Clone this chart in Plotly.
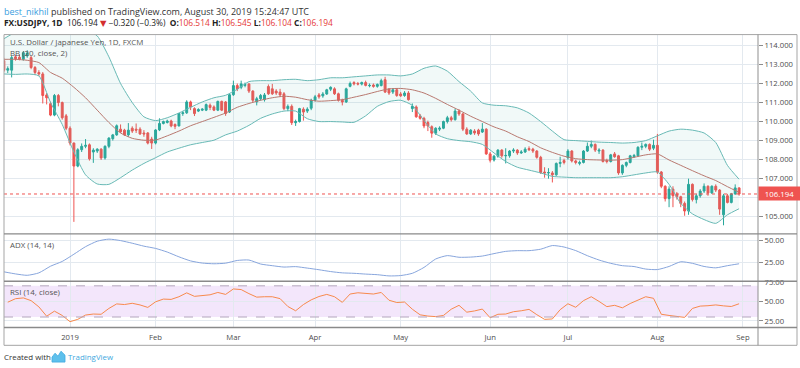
import plotly.graph_objects as go
import pandas as pd

W, H = 800, 368
FONT = "Open Sans, Noto Sans, DejaVu Sans, sans-serif"

# ---------------- data ----------------
dates = [d.strftime("%Y-%m-%d") for d in pd.bdate_range("2018-12-06", "2019-08-30")
         if d.strftime("%m-%d") not in ("12-25", "01-01")]

opens = [113.2, 112.7, 112.7, 113.4, 113.38, 113.27, 113.45, 113.36, 112.84, 112.58,
         112.5, 111.4, 110.94, 110.34, 111.37, 111.0, 110.3, 109.65, 108.87, 107.66,
         108.52, 108.7, 108.78, 108.4, 108.45, 108.55, 108.09, 108.7, 109.1, 109.3,
         109.6, 109.55, 109.3, 109.65, 109.6, 109.6, 109.4, 109.4, 109.08, 108.87,
         109.56, 109.9, 109.95, 110.03, 109.85, 109.77, 110.42, 110.46, 111.03, 110.68,
         110.55, 110.6, 110.6, 110.86, 110.77, 110.6, 111.06, 111.03, 110.5, 111.41,
         111.89, 111.8, 111.9, 111.98, 111.6, 111.03, 111.2, 111.15, 111.84, 111.72,
         111.6, 111.55, 111.46, 110.68, 110.8, 109.94, 110.0, 110.65, 110.55, 110.7,
         111.12, 111.4, 111.35, 111.45, 111.7, 111.72, 111.46, 111.12, 111.03, 111.85,
         112.05, 112.0, 111.97, 112.05, 111.88, 111.92, 111.85, 111.89, 112.2, 111.7,
         111.55, 111.67, 111.45, 111.37, 111.5, 110.68, 110.77, 110.3, 110.17, 109.95,
         109.73, 109.39, 109.6, 109.65, 110.0, 110.2, 110.1, 110.55, 110.4, 109.6,
         109.35, 109.5, 109.55, 109.45, 109.6, 108.3, 107.98, 108.18, 108.5, 108.2,
         108.2, 108.45, 108.5, 108.35, 108.4, 108.58, 108.55, 108.45, 108.12, 107.35,
         107.3, 107.3, 107.2, 107.8, 107.95, 108.1, 108.45, 107.93, 107.8, 107.85,
         108.45, 108.7, 108.8, 108.45, 108.5, 107.95, 107.9, 108.3, 108.2, 107.3,
         107.7, 107.85, 108.15, 108.2, 108.65, 108.7, 108.8, 108.6, 108.75, 107.35,
         106.6, 105.95, 106.45, 106.2, 106.05, 105.7, 105.3, 106.7, 105.9, 106.1,
         106.35, 106.6, 106.25, 106.6, 106.4, 105.1, 106.1, 105.75, 106.2, 106.514]

highs = [113.35, 112.9, 113.45, 113.5, 113.5, 113.7, 113.75, 113.45, 112.92, 112.7,
         112.6, 111.5, 111.05, 111.45, 111.45, 111.05, 110.4, 109.75, 108.9, 108.6,
         108.85, 109.08, 108.85, 108.6, 108.6, 108.6, 108.75, 109.18, 109.35, 109.85,
         109.85, 109.62, 109.92, 109.75, 109.9, 109.7, 109.55, 109.45, 109.2, 109.6,
         110.17, 110.05, 110.1, 110.1, 109.9, 110.45, 110.55, 111.12, 111.1, 110.75,
         110.7, 110.7, 110.95, 110.95, 110.85, 111.1, 111.1, 111.08, 111.45, 112.15,
         112.0, 112.15, 112.05, 112.0, 111.65, 111.3, 111.45, 111.5, 111.95, 111.98,
         111.7, 111.72, 111.55, 110.9, 110.9, 110.1, 110.72, 110.75, 110.75, 111.2,
         111.4, 111.5, 111.55, 111.72, 111.85, 111.8, 111.52, 111.2, 111.78, 112.1,
         112.12, 112.08, 112.1, 112.15, 112.0, 112.0, 112.0, 112.25, 112.35, 111.75,
         111.75, 111.75, 111.55, 111.6, 111.6, 110.95, 110.85, 110.4, 110.25, 110.05,
         109.8, 109.7, 109.75, 110.05, 110.3, 110.3, 110.68, 110.65, 110.45, 109.7,
         109.6, 109.6, 109.62, 109.92, 109.65, 108.4, 108.25, 108.55, 108.55, 108.6,
         108.5, 108.6, 108.55, 108.5, 108.65, 108.7, 108.62, 108.5, 108.2, 107.6,
         107.55, 107.4, 107.85, 108.15, 108.05, 108.55, 108.5, 108.0, 107.95, 108.5,
         108.9, 109.0, 108.85, 108.6, 108.55, 108.05, 108.3, 108.4, 108.25, 107.75,
         107.9, 108.25, 108.3, 108.7, 108.9, 108.85, 108.85, 109.05, 109.35, 107.4,
         106.65, 106.6, 106.6, 106.3, 106.1, 105.8, 107.0, 106.75, 106.2, 106.45,
         106.75, 106.65, 106.65, 106.7, 106.45, 106.2, 106.2, 106.25, 106.7, 106.545]

lows = [112.6, 112.55, 112.32, 113.2, 113.22, 113.2, 113.35, 112.75, 112.45, 112.4,
        110.95, 110.9, 110.28, 110.28, 110.8, 110.1, 109.55, 108.75, 104.73, 107.6,
        108.4, 108.6, 107.95, 107.83, 108.35, 107.98, 108.0, 108.6, 109.0, 109.25,
        109.4, 109.25, 109.2, 109.4, 109.4, 109.3, 109.2, 108.8, 108.56, 108.8,
        109.5, 109.85, 109.9, 109.7, 109.6, 109.75, 110.3, 110.4, 110.6, 110.29,
        110.5, 110.55, 110.55, 110.6, 110.55, 110.55, 110.55, 110.3, 110.45, 111.35,
        111.6, 111.7, 111.8, 111.5, 111.0, 110.85, 111.1, 111.05, 111.4, 111.4,
        111.4, 111.3, 110.6, 110.55, 109.82, 109.77, 109.95, 110.05, 110.45, 110.6,
        111.05, 111.2, 111.25, 111.4, 111.6, 111.4, 111.05, 110.85, 110.98, 111.8,
        111.9, 111.9, 111.9, 111.85, 111.8, 111.78, 111.78, 111.85, 111.5, 111.4,
        111.45, 111.3, 111.3, 111.3, 111.1, 110.5, 110.2, 110.1, 109.65, 109.5,
        109.15, 109.3, 109.5, 109.6, 109.9, 110.0, 110.05, 110.3, 109.5, 109.3,
        109.3, 109.3, 109.25, 109.4, 108.25, 107.85, 107.9, 108.1, 108.1, 107.8,
        108.1, 108.35, 108.25, 108.3, 108.35, 108.45, 108.35, 108.05, 107.25, 107.05,
        107.0, 106.8, 107.15, 107.6, 107.75, 108.0, 107.85, 107.75, 107.7, 107.8,
        108.4, 108.6, 108.4, 108.3, 107.85, 107.8, 107.85, 108.1, 107.2, 107.2,
        107.6, 107.8, 108.1, 108.15, 108.5, 108.6, 108.45, 108.5, 107.25, 106.5,
        105.8, 105.5, 105.5, 105.9, 105.5, 105.05, 105.1, 105.8, 105.7, 106.0,
        106.25, 106.1, 106.2, 106.3, 105.1, 104.55, 105.7, 105.7, 106.15, 106.104]

closes = [112.7, 112.78, 113.36, 113.3, 113.28, 113.62, 113.6, 112.84, 112.58, 112.5,
          111.37, 111.25, 110.34, 111.37, 111.0, 110.2, 109.65, 108.87, 107.66, 108.52,
          108.7, 108.75, 108.04, 108.5, 108.55, 108.09, 108.7, 109.13, 109.3, 109.78,
          109.46, 109.3, 109.55, 109.5, 109.55, 109.35, 109.35, 108.87, 108.87, 109.56,
          109.9, 110.0, 110.03, 109.77, 109.75, 110.42, 110.46, 111.03, 110.77, 110.42,
          110.63, 110.65, 110.89, 110.74, 110.6, 111.06, 110.6, 110.42, 111.41, 111.89,
          111.72, 111.98, 111.95, 111.6, 111.12, 111.2, 111.37, 111.4, 111.46, 111.46,
          111.5, 111.4, 110.68, 110.8, 109.94, 110.0, 110.68, 110.5, 110.65, 111.12,
          111.3, 111.3, 111.45, 111.67, 111.8, 111.46, 111.12, 111.03, 111.72, 112.0,
          111.98, 111.97, 112.05, 111.9, 111.9, 111.85, 111.95, 112.15, 111.55, 111.5,
          111.67, 111.37, 111.35, 111.5, 111.15, 110.8, 110.25, 110.17, 109.77, 109.77,
          109.39, 109.65, 109.65, 110.0, 110.2, 110.1, 110.55, 110.4, 109.6, 109.35,
          109.55, 109.4, 109.35, 109.6, 108.3, 107.97, 108.18, 108.5, 108.2, 108.22,
          108.45, 108.5, 108.35, 108.4, 108.55, 108.52, 108.45, 108.12, 107.32, 107.3,
          107.32, 107.2, 107.8, 107.85, 107.85, 108.45, 107.93, 107.85, 107.85, 108.45,
          108.7, 108.8, 108.5, 108.5, 107.9, 107.9, 108.25, 108.15, 107.3, 107.7,
          107.85, 108.2, 108.22, 108.65, 108.7, 108.8, 108.55, 108.75, 107.35, 106.6,
          105.95, 106.45, 106.1, 106.05, 105.7, 105.3, 106.7, 105.9, 106.1, 106.35,
          106.6, 106.25, 106.6, 106.4, 105.4, 106.1, 105.75, 106.2, 106.514, 106.194]

# Bollinger Bands (20, close, 2), read every third bar
bb_upper = [114.35, 114.7, 114.9, 115.0, 115.05, 115.0, 114.95, 114.85, 114.5, 113.4,
            112.0, 111.0, 110.25, 110.05, 110.2, 110.45, 110.75, 111.03, 111.25, 111.38,
            111.7, 112.1, 112.15, 112.15, 112.2, 112.22, 112.15, 112.2, 112.3, 112.3,
            112.35, 112.4, 112.45, 112.45, 112.4, 112.5, 112.8, 112.92, 112.65, 112.1,
            111.6, 110.98, 110.86, 110.83, 110.72, 110.45, 110.0, 109.5, 109.05, 109.0,
            108.96, 108.92, 108.9, 108.87, 108.9, 109.0, 109.25, 109.5, 109.6, 109.55,
            109.4, 108.9, 107.7, 106.97]
bb_middle = [113.27, 113.27, 113.22, 113.1, 112.58, 112.28, 111.8, 111.25, 110.6, 109.95,
             109.4, 109.12, 109.02, 109.03, 109.25, 109.5, 109.78, 110.0, 110.22, 110.45,
             110.75, 110.95, 111.12, 111.25, 111.33, 111.28, 111.15, 111.07, 111.1, 111.15,
             111.28, 111.42, 111.58, 111.72, 111.74, 111.67, 111.5, 111.22, 110.9, 110.6,
             110.28, 110.0, 109.72, 109.5, 109.2, 108.95, 108.62, 108.38, 108.18, 108.05,
             108.0, 107.98, 107.97, 108.0, 108.12, 108.25, 108.3, 107.98, 107.7, 107.42,
             107.15, 106.9, 106.58, 106.28]
bb_lower = [112.5, 112.48, 112.5, 112.4, 111.0, 109.85, 108.4, 107.2, 106.72, 106.7,
            107.05, 107.45, 107.8, 108.1, 108.4, 108.6, 108.78, 108.9, 109.02, 109.3,
            109.5, 109.8, 110.17, 110.4, 110.55, 110.55, 110.15, 110.0, 110.0, 109.98,
            109.96, 110.3, 110.8, 111.05, 111.12, 110.85, 110.05, 109.35, 109.1, 109.0,
            108.94, 108.8, 108.35, 107.9, 107.6, 107.45, 107.3, 107.12, 107.08, 107.05,
            107.05, 107.05, 107.05, 107.1, 107.2, 107.3, 107.35, 106.7, 105.7, 105.15,
            104.85, 104.65, 105.1, 105.42]

# ADX (14, 14), read every third bar
adx = [14.2, 11.8, 10.2, 13.0, 20.7, 26.2, 34.5, 43.2, 49.5, 51.9,
       50.2, 47.2, 43.8, 41.2, 37.0, 31.5, 26.8, 24.3, 23.5, 24.2,
       27.3, 27.8, 23.2, 21.3, 19.7, 20.2, 18.5, 16.6, 14.5, 13.0,
       12.5, 11.6, 10.9, 9.5, 9.9, 12.5, 19.3, 29.0, 32.9, 31.0,
       31.2, 32.4, 35.2, 37.8, 38.6, 38.6, 40.3, 44.5, 42.8, 38.7,
       32.8, 27.8, 24.0, 21.3, 20.3, 17.4, 16.8, 20.4, 25.8, 24.0,
       20.4, 18.8, 21.3, 23.5]

# RSI (14, close), read every second bar
rsi = [49, 53.5, 54.5, 51, 43, 31, 37.5, 32, 24, 27,
       32.5, 33.8, 33.5, 41, 46.8, 46, 47.6, 45.5, 42.3, 49.5,
       53, 52.6, 56, 61, 56.5, 57.8, 58.5, 61.5, 59, 66,
       65.2, 60, 55.5, 56, 56, 53.6, 43.5, 38, 46, 52,
       56.3, 59, 56, 48.8, 59.5, 61.1, 60.2, 59.5, 61.5, 51.5,
       48.6, 49.2, 40, 32.8, 31.2, 30.5, 32, 40, 45, 36.2,
       37.8, 40.2, 29, 33.5, 33.8, 36.8, 38, 39.8, 33, 27,
       27.5, 39.4, 47, 42.5, 51, 56, 50, 43.3, 45, 41.8,
       47.3, 51.5, 56, 54, 33.5, 32, 31, 29.5, 41, 44,
       44.5, 45.5, 44.3, 43.5, 47]

month_keys = ["2019-01", "2019-02", "2019-03", "2019-04", "2019-05",
              "2019-06", "2019-07", "2019-08", "2019-09"]
month_labels = ["2019", "Feb", "Mar", "Apr", "May", "Jun", "Jul", "Aug", "Sep"]
price_ticks = [105, 106, 107, 108, 109, 110, 111, 112, 113, 114]
adx_ticks = [25, 50]
rsi_ticks = [25, 50, 75]
rsi_bounds = [30, 70]


# ---------------- helpers ----------------
def px(x):
    return x / W


def py(y):
    return (H - y) / H


pos = list(range(len(dates)))
bb_pos = pos[::3]
adx_pos = pos[::3]
rsi_pos = pos[1::2]
tick_pos = [next((k for k, d in enumerate(dates) if d.startswith(m)), len(dates))
            for m in month_keys]

GRID = "#e3e9ef"
AX_TXT = "#4d4d4d"
UP = "#26a69a"
DN = "#ef5350"
BAND = "#68b9b5"

fig = go.Figure()
fig.add_trace(go.Scatter(x=bb_pos, y=bb_lower, mode="lines",
                         line=dict(color=BAND, width=1, shape="spline", smoothing=0.6),
                         hoverinfo="skip", xaxis="x", yaxis="y"))
fig.add_trace(go.Scatter(x=bb_pos, y=bb_upper, mode="lines",
                         line=dict(color=BAND, width=1, shape="spline", smoothing=0.6),
                         fill="tonexty", fillcolor="rgba(104,185,181,0.09)",
                         hoverinfo="skip", xaxis="x", yaxis="y"))
fig.add_trace(go.Scatter(x=bb_pos, y=bb_middle, mode="lines",
                         line=dict(color="#b8786f", width=1, shape="spline", smoothing=0.6),
                         hoverinfo="skip", xaxis="x", yaxis="y"))
fig.add_trace(go.Candlestick(x=pos, open=opens, high=highs, low=lows, close=closes,
                             increasing=dict(line=dict(color=UP, width=1), fillcolor=UP),
                             decreasing=dict(line=dict(color=DN, width=1), fillcolor=DN),
                             whiskerwidth=0, hoverinfo="skip", xaxis="x", yaxis="y"))
fig.add_trace(go.Scatter(x=adx_pos, y=adx, mode="lines",
                         line=dict(color="#87a5dc", width=1, shape="spline", smoothing=0.6),
                         hoverinfo="skip", xaxis="x2", yaxis="y2"))
fig.add_trace(go.Scatter(x=rsi_pos, y=rsi, mode="lines",
                         line=dict(color="#f7894c", width=1),
                         hoverinfo="skip", xaxis="x3", yaxis="y3"))

xr = [0.033, 193.86]
tickfont = dict(family=FONT, size=7.7, color=AX_TXT)
xcommon = dict(domain=[px(4), px(758)], range=xr, tickvals=tick_pos, ticktext=month_labels,
               showgrid=True, gridcolor=GRID, gridwidth=1, zeroline=False, showline=False,
               fixedrange=True, ticks="")
ycommon = dict(side="right", showgrid=True, gridcolor=GRID, gridwidth=1, zeroline=False,
               showline=False, ticks="outside", ticklen=4, tickcolor="#8c8c8c",
               tickfont=tickfont, fixedrange=True)

fig.update_layout(
    width=W, height=H, autosize=False,
    margin=dict(l=0, r=0, t=0, b=0, pad=0),
    paper_bgcolor="white", plot_bgcolor="white",
    showlegend=False, hovermode=False,
    font=dict(family=FONT, size=8, color="#333333"),
    xaxis=dict(**xcommon, anchor="y", showticklabels=False, rangeslider=dict(visible=False)),
    xaxis2=dict(**xcommon, anchor="y2", showticklabels=False, matches="x"),
    xaxis3=dict(**xcommon, anchor="y3", showticklabels=True, matches="x",
                tickfont=tickfont, ticklabelstandoff=4),
    yaxis=dict(**ycommon, anchor="x", domain=[py(232), py(30)], range=[104.10, 114.57],
               tickvals=price_ticks, tickformat=".3f"),
    yaxis2=dict(**ycommon, anchor="x2", domain=[py(280), py(232)], range=[3.4, 58.0],
                tickvals=adx_ticks, tickformat=".2f"),
    yaxis3=dict(**ycommon, anchor="x3", domain=[py(327), py(280)], range=[16.46, 75.95],
                tickvals=rsi_ticks, tickformat=".2f"),
)

last = closes[-1]
prev = closes[-2]
chg = last - prev
pct = chg / prev * 100

shapes = [
    # RSI band
    dict(type="rect", xref="paper", yref="y3", x0=px(4), x1=px(758),
         y0=rsi_bounds[0], y1=rsi_bounds[1], fillcolor="#f3e6fb", line=dict(width=0),
         layer="below"),
    dict(type="line", xref="paper", yref="y3", x0=px(4), x1=px(758),
         y0=rsi_bounds[0], y1=rsi_bounds[0], line=dict(color="#b3a6bd", width=1, dash="dash")),
    dict(type="line", xref="paper", yref="y3", x0=px(4), x1=px(758),
         y0=rsi_bounds[1], y1=rsi_bounds[1], line=dict(color="#b3a6bd", width=1, dash="dash")),
    # last price line
    dict(type="line", xref="paper", yref="y", x0=px(4), x1=px(758), y0=last, y1=last,
         line=dict(color=DN, width=1, dash="dot")),
    # frame
    dict(type="rect", xref="paper", yref="paper", x0=px(4), x1=px(797), y0=py(345), y1=py(30),
         line=dict(color="#a5a5a5", width=1)),
    dict(type="line", xref="paper", yref="paper", x0=px(758), x1=px(758), y0=py(345), y1=py(30),
         line=dict(color="#8f8f8f", width=1)),
]
for ysep in (232, 280, 327):
    shapes.append(dict(type="line", xref="paper", yref="paper", x0=px(4), x1=px(797),
                       y0=py(ysep), y1=py(ysep), line=dict(color="#8a8a8a", width=1.4)))
# TradingView logo (simple mark)
logo_pts = [(52, 362), (52, 357), (55, 353), (58, 356), (61, 351), (65, 355), (65, 362)]
path = "M " + " L ".join(f"{px(a):.5f},{py(b):.5f}" for a, b in logo_pts) + " Z"
shapes.append(dict(type="path", xref="paper", yref="paper", path=path,
                   fillcolor="#5ec0ec", line=dict(color="#3fa9e0", width=0.8)))
fig.update_layout(shapes=shapes)

RED = "#e53935"
hdr2 = (f"<b>FX:USDJPY, 1D</b>  {last:.3f} <span style='color:#d32f2f'>▼</span> "
        f"{chg:.3f} ({pct:.1f}%)  ".replace("-", "−")
        + f"<b>O:</b><span style='color:{RED}'>{opens[-1]:.3f}</span> "
        + f"<b>H:</b><span style='color:{RED}'>{highs[-1]:.3f}</span> "
        + f"<b>L:</b><span style='color:{RED}'>{lows[-1]:.3f}</span> "
        + f"<b>C:</b><span style='color:{RED}'>{last:.3f}</span>")


def note(x, y, text, size=8, color="#333333", xanchor="left", **kw):
    return dict(x=px(x), y=py(y), xref="paper", yref="paper", text=text, showarrow=False,
                xanchor=xanchor, yanchor="middle", font=dict(family=FONT, size=size, color=color),
                **kw)


annotations = [
    note(2, 7, "<span style='color:#3a9ee0'>best_nikhil</span> published on TradingView.com, "
               "August 30, 2019 15:24:47 UTC", size=9.0),
    note(2, 18.5, hdr2, size=8.4, color="#222222"),
    note(8, 37.5, "U.S. Dollar / Japanese Yen, 1D, FXCM", size=7.9, color="#555555"),
    note(8, 49, "BB (20, close, 2)", size=7.9, color="#555555"),
    note(8, 243, "ADX (14, 14)", size=7.9, color="#555555"),
    note(8, 290.5, "RSI (14, close)", size=7.9, color="#555555"),
    note(2, 357, "Created with", size=7.9, color="#333333"),
    note(66, 357, "TradingView", size=7.9, color="#3fa9e0"),
    dict(x=px(758), y=last, xref="paper", yref="y", text=f"{last:.3f}", showarrow=False,
         xanchor="left", yanchor="middle", bgcolor=DN, borderpad=1.5, width=38,
         align="center", font=dict(family=FONT, size=7.8, color="white")),
]
fig.update_layout(annotations=annotations)

fig.write_html("out.html", config={"displayModeBar": False},
               post_script="document.body.style.margin='0';document.body.style.overflow='hidden';")
